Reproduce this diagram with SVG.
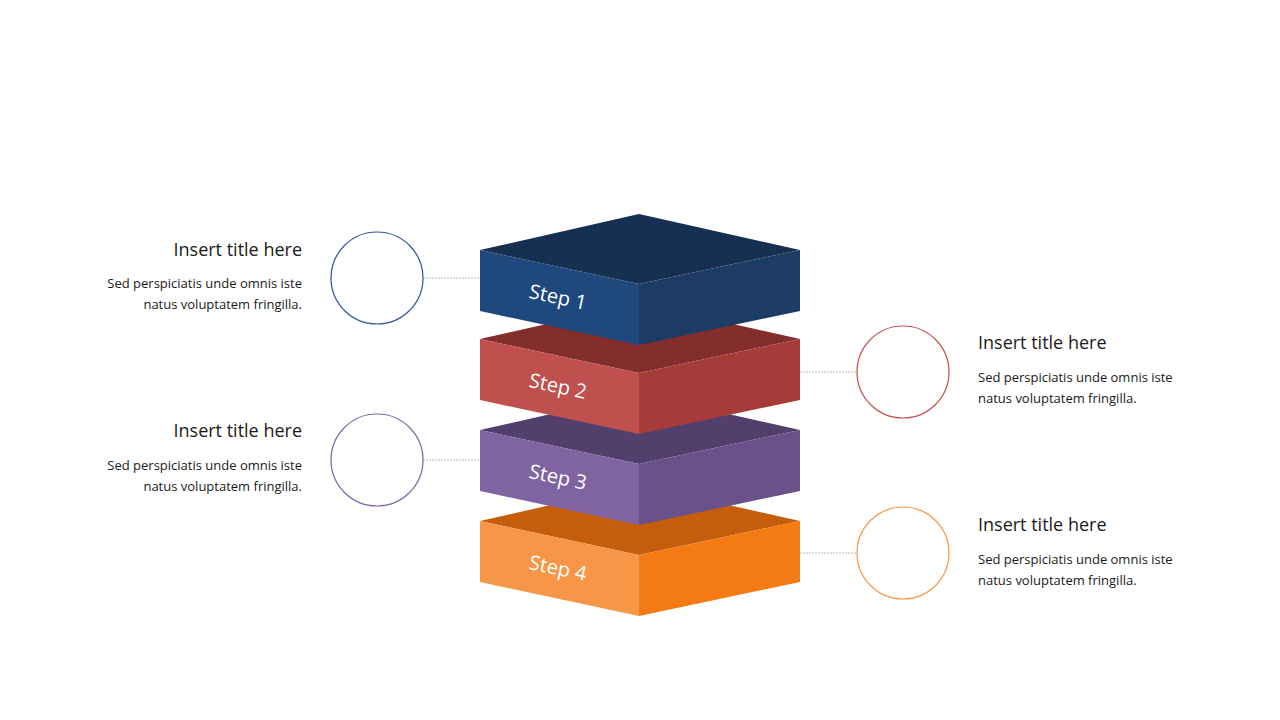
<svg xmlns="http://www.w3.org/2000/svg" width="1280" height="720" viewBox="0 0 1280 720">
<style>
.t{font-family:"Open Sans","Noto Sans",sans-serif;font-size:18px;fill:#1a1a1a}
.b{font-family:"Open Sans","Noto Sans",sans-serif;font-size:13px;fill:#1a1a1a}
.s{font-family:"Open Sans","Noto Sans",sans-serif;font-size:20px;fill:#fff}
.c{fill:#fff;stroke-width:1.2}
.l{stroke:#aaa;stroke-width:0.8;stroke-dasharray:2 1}
</style>
<rect width="1280" height="720" fill="#fff"/>
<g id="connectors">
<line class="l" x1="423" y1="278" x2="480" y2="278"/>
<line class="l" x1="800" y1="372" x2="857" y2="372"/>
<line class="l" x1="423" y1="460" x2="480" y2="460"/>
<line class="l" x1="800" y1="553" x2="857" y2="553"/>
</g>
<g id="block4" transform="translate(0,271)">
<polygon points="639,214 800,250 639,284 480,250" fill="#c55e0c"/>
<polygon points="480,250 639,284 639,345 480,311" fill="#f79646"/>
<polygon points="639,284 800,250 800,311 639,345" fill="#f47a14"/>
<text class="s" x="558" y="304" text-anchor="middle" transform="rotate(12 558 297)">Step 4</text>
</g>
<g id="block3" transform="translate(0,180)">
<polygon points="639,214 800,250 639,284 480,250" fill="#523f6b"/>
<polygon points="480,250 639,284 639,345 480,311" fill="#8064a2"/>
<polygon points="639,284 800,250 800,311 639,345" fill="#6a5189"/>
<text class="s" x="558" y="304" text-anchor="middle" transform="rotate(12 558 297)">Step 3</text>
</g>
<g id="block2" transform="translate(0,89)">
<polygon points="639,214 800,250 639,284 480,250" fill="#832d2d"/>
<polygon points="480,250 639,284 639,345 480,311" fill="#c0504d"/>
<polygon points="639,284 800,250 800,311 639,345" fill="#a53c3a"/>
<text class="s" x="558" y="304" text-anchor="middle" transform="rotate(12 558 297)">Step 2</text>
</g>
<g id="block1">
<polygon points="639,214 800,250 639,284 480,250" fill="#172f51"/>
<polygon points="480,250 639,284 639,345 480,311" fill="#1f487c"/>
<polygon points="639,284 800,250 800,311 639,345" fill="#1c3b65"/>
<text class="s" x="558" y="304" text-anchor="middle" transform="rotate(12 558 297)">Step 1</text>
</g>
<g id="item1">
<circle class="c" cx="377" cy="278" r="46" stroke="#2f5597"/>
<text class="t" x="302" y="256" text-anchor="end">Insert title here</text>
<text class="b" x="302" y="288" text-anchor="end">Sed perspiciatis unde omnis iste</text>
<text class="b" x="302" y="309" text-anchor="end">natus voluptatem fringilla.</text>
</g>
<g id="item2">
<circle class="c" cx="903" cy="372" r="46" stroke="#c0504d"/>
<text class="t" x="978" y="349">Insert title here</text>
<text class="b" x="978" y="382">Sed perspiciatis unde omnis iste</text>
<text class="b" x="978" y="403">natus voluptatem fringilla.</text>
</g>
<g id="item3">
<circle class="c" cx="377" cy="460" r="46" stroke="#8064a2"/>
<text class="t" x="302" y="437" text-anchor="end">Insert title here</text>
<text class="b" x="302" y="470" text-anchor="end">Sed perspiciatis unde omnis iste</text>
<text class="b" x="302" y="491" text-anchor="end">natus voluptatem fringilla.</text>
</g>
<g id="item4">
<circle class="c" cx="903" cy="553" r="46" stroke="#f79646"/>
<text class="t" x="978" y="531">Insert title here</text>
<text class="b" x="978" y="564">Sed perspiciatis unde omnis iste</text>
<text class="b" x="978" y="585">natus voluptatem fringilla.</text>
</g>
</svg>
